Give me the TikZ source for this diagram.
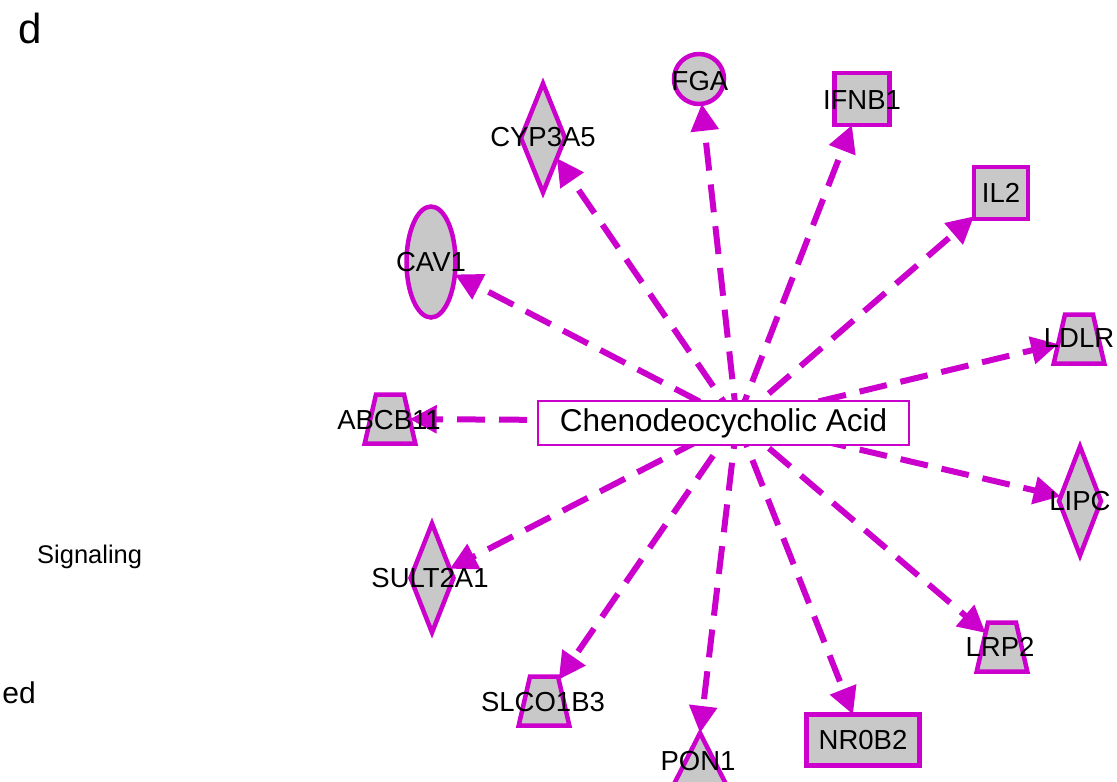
\documentclass[tikz,border=0pt]{standalone}
\usepackage{fontspec}
\setmainfont{Liberation Sans}
\usetikzlibrary{arrows.meta,shapes.geometric}
\definecolor{ipamag}{RGB}{204,0,204}
\definecolor{ipagray}{RGB}{200,200,200}

\begin{document}
\begin{tikzpicture}[x=1pt,y=-1pt,
  gene/.style={draw=ipamag, fill=ipagray, line width=4.5pt, inner sep=0pt, outer sep=0pt},
  trap/.style={gene, trapezium, trapezium left angle=77, trapezium right angle=77,
               inner xsep=14pt, inner ysep=24.5pt},
  gname/.style={font=\fontsize{27.5}{30}\selectfont, text=black, inner sep=0pt},
  rel/.style={draw=ipamag, line width=6pt, dash pattern=on 28pt off 14pt,
              -{Triangle[length=27pt,width=27pt]}},
  hubbox/.style={draw=ipamag, fill=white, line width=2pt, inner sep=0pt,
                 minimum width=371pt, minimum height=44pt,
                 font=\fontsize{31.5}{34}\selectfont},
  side/.style={font=\fontsize{25.5}{28}\selectfont, inner sep=0pt}
]
\useasboundingbox (0,0) rectangle (1117,782);
\clip (0,0) rectangle (1117,782);

% gene shapes
\node[gene, circle, minimum size=50pt] (fga) at (699,79) {};
\node[gene, diamond, minimum width=44pt, minimum height=109pt] (cyp) at (543,138) {};
\node[gene, minimum width=55pt, minimum height=52pt] (ifnb) at (862,99) {};
\node[gene, minimum width=54pt, minimum height=52pt] (il2) at (1001,193) {};
\node[gene, ellipse, minimum width=49pt, minimum height=111pt] (cav) at (431,262) {};
\node[trap] (abcb) at (390,419) {};
\node[trap] (ldlr) at (1079,339) {};
\node[gene, diamond, minimum width=42pt, minimum height=109pt] (lipc) at (1080,501) {};
\node[gene, diamond, minimum width=43pt, minimum height=109pt] (sult) at (432,578) {};
\node[trap] (lrp) at (1002,647) {};
\node[trap] (slco) at (544,701) {};
\node[gene, minimum width=113pt, minimum height=51pt] (nr0b) at (863,740) {};
\coordinate (pon) at (700,733);
\draw[gene, line join=miter] (pon) -- (729,790) -- (671,790) -- cycle;

% relations from the chemical
\coordinate (hub) at (737,421);
\foreach \t in {fga,cyp,ifnb,il2,cav,abcb,ldlr,lipc,sult,lrp,slco,nr0b,pon}
  \draw[rel] (hub) -- (\t);

% chemical
\node[hubbox] (cda) at (723.5,423) {Chenodeocycholic Acid};

% gene names
\node[gname] (fga-l)  at (700,81)   {FGA};
\node[gname] (cyp-l)  at (543,137)  {CYP3A5};
\node[gname] (ifnb-l) at (862,100)  {IFNB1};
\node[gname] (il2-l)  at (1001,193) {IL2};
\node[gname] (cav-l)  at (431,262)  {CAV1};
\node[gname] (abcb-l) at (389,420)  {ABCB11};
\node[gname] (ldlr-l) at (1079,338) {LDLR};
\node[gname] (lipc-l) at (1080,501) {LIPC};
\node[gname] (sult-l) at (430,578)  {SULT2A1};
\node[gname] (lrp-l)  at (1000,647) {LRP2};
\node[gname] (slco-l) at (543,702)  {SLCO1B3};
\node[gname] (nr0b-l) at (863,740)  {NR0B2};
\node[gname] (pon-l)  at (698,761)  {PON1};

% text along the left margin
\node[anchor=base west, font=\fontsize{42}{46}\selectfont, inner sep=0pt] (panel) at (18,43) {d};
\node[side, anchor=base west] (sig) at (37,563) {Signaling};
\node[side, anchor=base east, font=\fontsize{30}{33}\selectfont] (ed) at (36,703) {ed};
\end{tikzpicture}
\end{document}
